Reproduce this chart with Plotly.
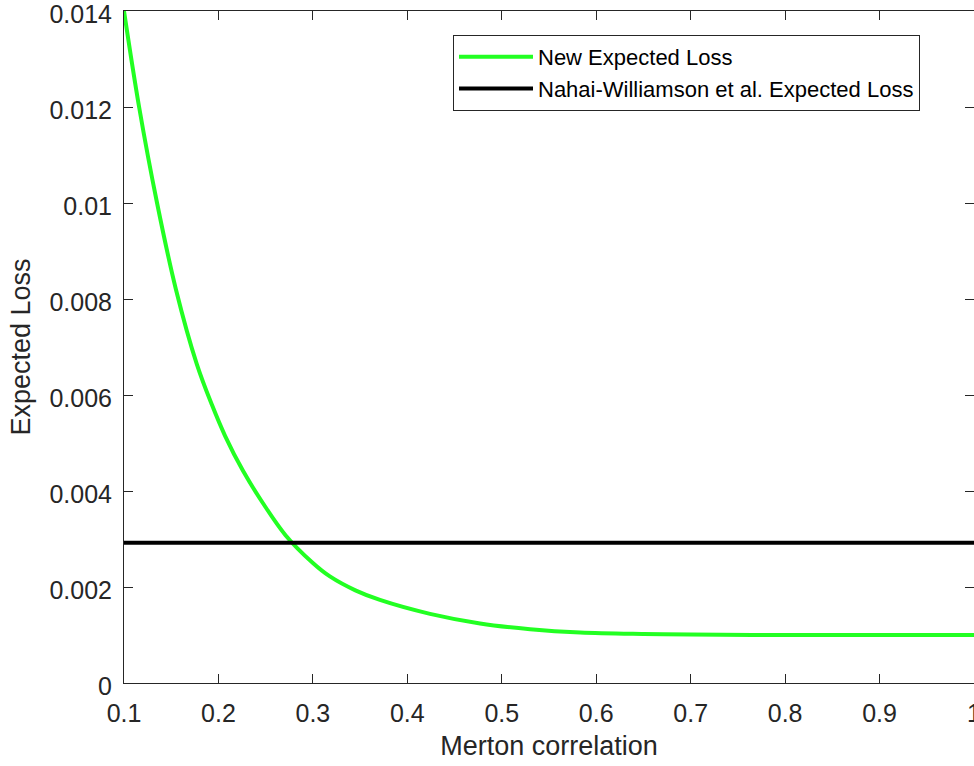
import plotly.graph_objects as go

# Data
merton_corr = [0.100, 0.116, 0.135, 0.155, 0.177, 0.193, 0.207, 0.226, 0.247, 0.271,
               0.300, 0.318, 0.345, 0.371, 0.424, 0.477, 0.530, 0.583, 0.650, 0.700,
               0.800, 0.900, 1.000]
new_expected_loss = [0.01400, 0.01200, 0.01000, 0.00820, 0.00665, 0.00580, 0.00515, 0.00442,
                     0.00375, 0.00308, 0.00250, 0.00222, 0.00193, 0.00173, 0.00144, 0.00124,
                     0.00112, 0.00105, 0.00102, 0.00101, 0.00100, 0.00100, 0.00100]
nw_x = [0.1, 1.0]
nw_expected_loss = [0.00292, 0.00292]

x_ticks = [0.1, 0.2, 0.3, 0.4, 0.5, 0.6, 0.7, 0.8, 0.9, 1.0]
x_ticktext = ["0.1", "0.2", "0.3", "0.4", "0.5", "0.6", "0.7", "0.8", "0.9", "1"]
y_ticks = [0, 0.002, 0.004, 0.006, 0.008, 0.010, 0.012, 0.014]
y_ticktext = ["0", "0.002", "0.004", "0.006", "0.008", "0.01", "0.012", "0.014"]

AX = "#262626"
FONT = "Liberation Sans, Arial, Helvetica, sans-serif"

fig = go.Figure()
fig.add_trace(go.Scatter(x=merton_corr, y=new_expected_loss, mode="lines",
                         name="New Expected Loss",
                         line=dict(color="#22ff22", width=4, shape="spline", smoothing=1.0)))
fig.add_trace(go.Scatter(x=nw_x, y=nw_expected_loss, mode="lines",
                         name="Nahai-Williamson et al. Expected Loss",
                         line=dict(color="#000000", width=4)))

axis_common = dict(showgrid=False, zeroline=False, showline=True, linecolor=AX, linewidth=1,
                   mirror="ticks", ticks="inside", ticklen=9, tickcolor=AX, tickwidth=1,
                   tickfont=dict(family=FONT, size=25, color=AX),
                   ticklabeloverflow="allow")

fig.update_layout(
    width=974, height=766,
    margin=dict(l=124, r=0, t=11, b=83, autoexpand=False),
    paper_bgcolor="white", plot_bgcolor="white",
    font=dict(family=FONT, color=AX),
    xaxis=dict(range=[0.1, 1.0], tickvals=x_ticks, ticktext=x_ticktext,
               ticklabelstandoff=8,
               title=dict(text="Merton correlation", font=dict(family=FONT, size=27, color=AX), standoff=10),
               **axis_common),
    yaxis=dict(range=[0, 0.014], tickvals=y_ticks, ticktext=y_ticktext,
               ticklabelstandoff=6, ticklabelshift=3,
               title=dict(text="Expected Loss", font=dict(family=FONT, size=27, color=AX), standoff=10),
               **axis_common),
    legend=dict(x=(920 - 124) / 850, xanchor="right", y=(683 - 35) / 672, yanchor="top",
                bgcolor="white", bordercolor=AX, borderwidth=1,
                font=dict(family=FONT, size=22, color="#000000"),
                itemwidth=74, tracegroupgap=0),
    showlegend=True,
)

fig.write_html("out.html")
